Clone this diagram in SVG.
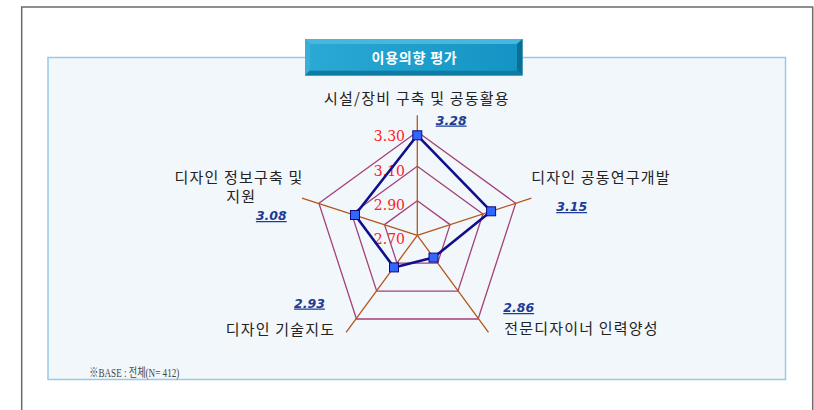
<svg xmlns="http://www.w3.org/2000/svg" width="814" height="410" viewBox="0 0 814 410">
<defs>
<linearGradient id="face" x1="0" y1="0" x2="1" y2="0">
<stop offset="0" stop-color="#2ba9d5"/>
<stop offset="1" stop-color="#1394c4"/>
</linearGradient>
<style>
.grid{fill:none;stroke:#a3417a;stroke-width:1.3}
.axis{stroke:#b4561c;stroke-width:1.3}
.series{fill:none;stroke:#10108a;stroke-width:2.6;stroke-linejoin:round}
.mk{fill:#3366ff;stroke:#0a0a80;stroke-width:1}
.scale{font-family:"DejaVu Serif","Liberation Serif",serif;font-size:14px;fill:#ff2020;text-anchor:end}
.cat{font-family:"Noto Sans CJK KR","Noto Sans",sans-serif;font-size:15px;fill:#222;text-anchor:middle;letter-spacing:1.2px}
.val{font-family:"DejaVu Sans","Liberation Sans",sans-serif;font-size:12.5px;font-weight:bold;font-style:italic;fill:#1c3c96;text-anchor:middle;text-decoration:underline}
</style>
</defs>
<rect x="0" y="0" width="814" height="410" fill="#ffffff"/>
<g id="frame">
<path d="M21.7,410 V7 H812.7 V410" fill="none" stroke="#6b6b6b" stroke-width="1.5"/>
</g>
<g id="panel">
<rect x="48" y="57.5" width="737.5" height="322" fill="#f2f7fb" stroke="#96cbe8" stroke-width="1.5"/>
</g>
<g id="title">
<rect x="305" y="39" width="217.5" height="36.5" fill="#1b9bc9"/>
<polygon points="305,39 522.5,39 517,44 310,44" fill="#47b7dd"/>
<polygon points="305,39 310,44 310,70.5 305,75.5" fill="#3aaed6"/>
<polygon points="522.5,39 522.5,75.5 517,70.5 517,44" fill="#0b6f94"/>
<polygon points="305,75.5 522.5,75.5 517,70.5 310,70.5" fill="#0e7ca3"/>
<rect x="310" y="44" width="207" height="26.5" fill="url(#face)"/>
<text x="414.5" y="63" font-family="'Noto Sans CJK KR','Noto Sans',sans-serif" font-size="14" font-weight="bold" fill="#ffffff" text-anchor="middle" letter-spacing="0.8">이용의향 평가</text>
</g>
<g id="grid">
<polygon class="grid" points="417.3,200.8 450.1,224.6 437.6,263.2 397.0,263.2 384.5,224.6"/>
<polygon class="grid" points="417.3,166.3 482.9,214.0 457.9,291.1 376.7,291.1 351.7,214.0"/>
<polygon class="grid" points="417.3,131.8 515.7,203.3 478.1,319.0 356.5,319.0 318.9,203.3"/>
</g>
<g id="connectors">
<line class="axis" x1="417.3" y1="235.3" x2="417.3" y2="115.3"/>
<line class="axis" x1="417.3" y1="235.3" x2="531.4" y2="198.2"/>
<line class="axis" x1="417.3" y1="235.3" x2="488.5" y2="332.4"/>
<line class="axis" x1="417.3" y1="235.3" x2="346.1" y2="332.4"/>
<line class="axis" x1="417.3" y1="235.3" x2="302.0" y2="198.2"/>
</g>
<g id="scale">
<text class="scale" x="405" y="141">3.30</text>
<text class="scale" x="405" y="176">3.10</text>
<text class="scale" x="405" y="210">2.90</text>
<text class="scale" x="405" y="243.5">2.70</text>
</g>
<g id="series">
<polygon class="series" points="417.3,135.3 491.1,211.3 433.5,257.6 394.0,267.4 355.0,215.0"/>
<rect class="mk" x="412.8" y="130.8" width="9" height="9"/>
<rect class="mk" x="486.6" y="206.8" width="9" height="9"/>
<rect class="mk" x="429.0" y="253.1" width="9" height="9"/>
<rect class="mk" x="389.5" y="262.9" width="9" height="9"/>
<rect class="mk" x="350.5" y="210.5" width="9" height="9"/>
</g>
<g id="node-top">
<text class="cat" x="417" y="104">시설/장비 구축 및 공동활용</text>
<text class="val" x="451.2" y="124.5">3.28</text>
</g>
<g id="node-right">
<text class="cat" x="601" y="182.5">디자인 공동연구개발</text>
<text class="val" x="571.7" y="211">3.15</text>
</g>
<g id="node-bottom-right">
<text class="cat" x="581.5" y="333.5">전문디자이너 인력양성</text>
<text class="val" x="518.7" y="312">2.86</text>
</g>
<g id="node-bottom-left">
<text class="cat" x="280.5" y="335">디자인 기술지도</text>
<text class="val" x="309.5" y="307.5">2.93</text>
</g>
<g id="node-left">
<text class="cat"><tspan x="239" y="183">디자인 정보구축 및</tspan><tspan x="241.3" y="201.5">지원</tspan></text>
<text class="val" x="271.3" y="220">3.08</text>
</g>
<g id="footnote">
<text x="89.3" y="376.5" font-family="'Liberation Serif','Noto Sans CJK KR',serif" font-size="12.5" fill="#444" textLength="90" lengthAdjust="spacingAndGlyphs">※BASE : 전체(N= 412)</text>
</g>
</svg>
